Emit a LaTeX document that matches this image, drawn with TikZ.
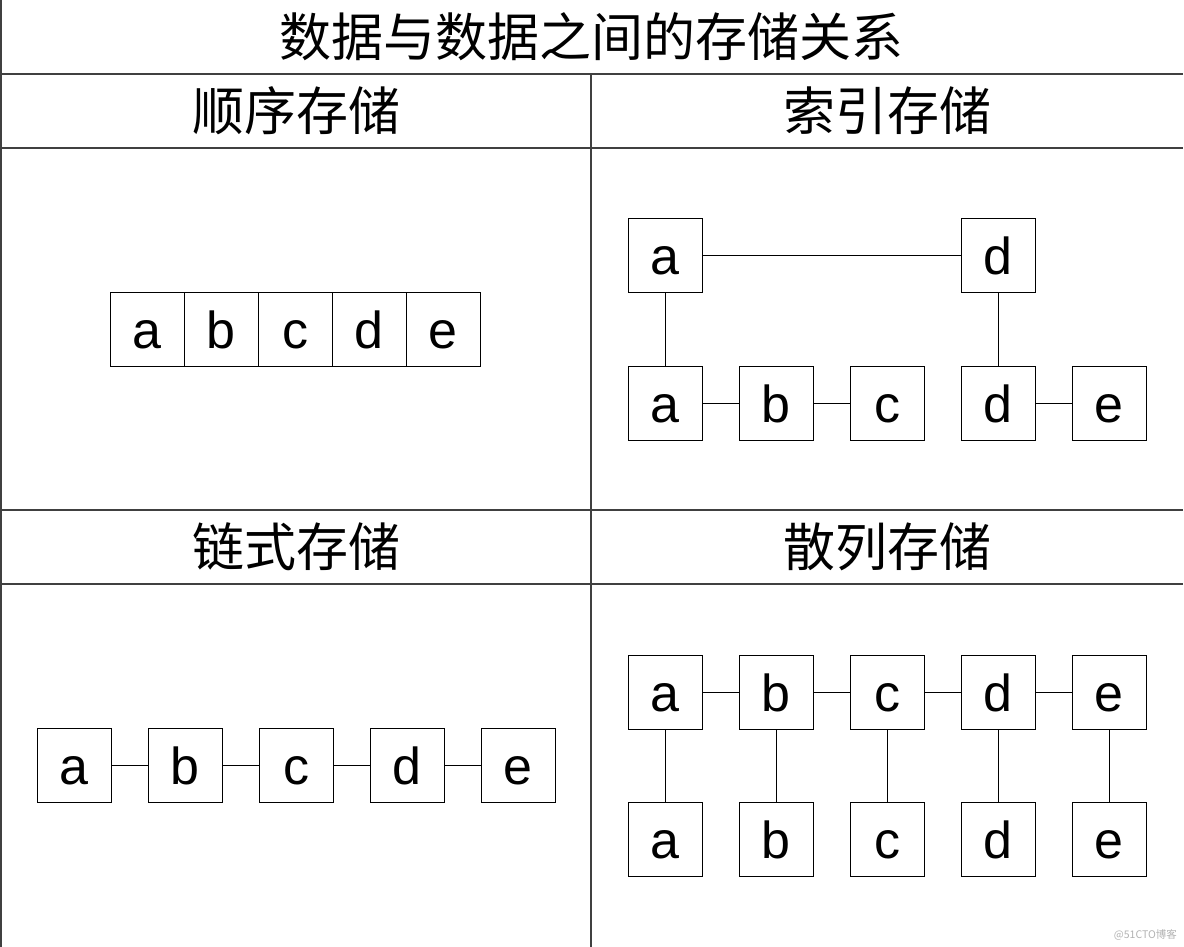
\documentclass[tikz,border=0pt]{standalone}
\usepackage{fontspec}
\setmainfont{Liberation Sans}
\newfontfamily\cjk{Noto Sans CJK SC}
\usetikzlibrary{positioning}
\tikzset{%
  cell/.style    = {shape=rectangle, draw, line width=0.9pt,%
                    minimum width=74pt, minimum height=74pt,%
                    inner sep=0pt, outer sep=0pt,%
                    font=\fontsize{52}{52}\selectfont,%
                    text height=38pt, text depth=0pt},%
  heading/.style = {font=\cjk\fontsize{52}{52}\selectfont, inner sep=0pt},%
  grid/.style    = {line width=1.3pt, draw=black!75},%
  link/.style    = {line width=0.9pt}%
}
\begin{document}
\begin{tikzpicture}[x=1pt,y=-1pt,node distance=37pt]
	\useasboundingbox (0,0) rectangle (1184,947);
	% table rules
	\draw[grid] (1,0) -- (1,947);
	\draw[grid] (591,74) -- (591,947);
	\foreach \y in {74,148,510,584}
		\draw[grid] (0,\y) -- (1183,\y);
	% headings
	\node[heading] (title)  at (591,37)  {数据与数据之间的存储关系};
	\node[heading] (seqhead) at (296,111) {顺序存储};
	\node[heading] (idxhead) at (887,111) {索引存储};
	\node[heading] (lnkhead) at (296,547) {链式存储};
	\node[heading] (hshhead) at (887,547) {散列存储};
	% sequential
	\node[cell] (sa) at (147,329) {a};
	\node[cell,right=0pt of sa] (sb) {b};
	\node[cell,right=0pt of sb] (sc) {c};
	\node[cell,right=0pt of sc] (sd) {d};
	\node[cell,right=0pt of sd] (se) {e};
	% index
	\node[cell] (ia) at (665,403) {a};
	\node[cell,right=of ia] (ib) {b};
	\node[cell,right=of ib] (ic) {c};
	\node[cell,right=of ic] (id) {d};
	\node[cell,right=of id] (ie) {e};
	\node[cell,above=74pt of ia] (ita) {a};
	\node[cell,above=74pt of id] (itd) {d};
	\draw[link] (ita) -- (itd) (ita) -- (ia) (itd) -- (id)
		(ia) -- (ib) (ib) -- (ic) (id) -- (ie);
	% linked
	\node[cell] (la) at (74,765) {a};
	\node[cell,right=of la] (lb) {b};
	\node[cell,right=of lb] (lc) {c};
	\node[cell,right=of lc] (ld) {d};
	\node[cell,right=of ld] (le) {e};
	\draw[link] (la) -- (lb) (lb) -- (lc) (lc) -- (ld) (ld) -- (le);
	% hash
	\node[cell] (ha) at (665,839) {a};
	\node[cell,right=of ha] (hb) {b};
	\node[cell,right=of hb] (hc) {c};
	\node[cell,right=of hc] (hd) {d};
	\node[cell,right=of hd] (he) {e};
	\node[cell,above=73pt of ha] (hta) {a};
	\node[cell,above=73pt of hb] (htb) {b};
	\node[cell,above=73pt of hc] (htc) {c};
	\node[cell,above=73pt of hd] (htd) {d};
	\node[cell,above=73pt of he] (hte) {e};
	\draw[link] (hta) -- (htb) (htb) -- (htc) (htc) -- (htd) (htd) -- (hte)
		(hta) -- (ha) (htb) -- (hb) (htc) -- (hc) (htd) -- (hd) (hte) -- (he);
	% watermark
	\node[font=\cjk\fontsize{10.5}{10.5}\selectfont, text=black!30,%
		inner sep=0pt, anchor=east] (mark) at (1177,935) {@51CTO博客};
\end{tikzpicture}
\end{document}
